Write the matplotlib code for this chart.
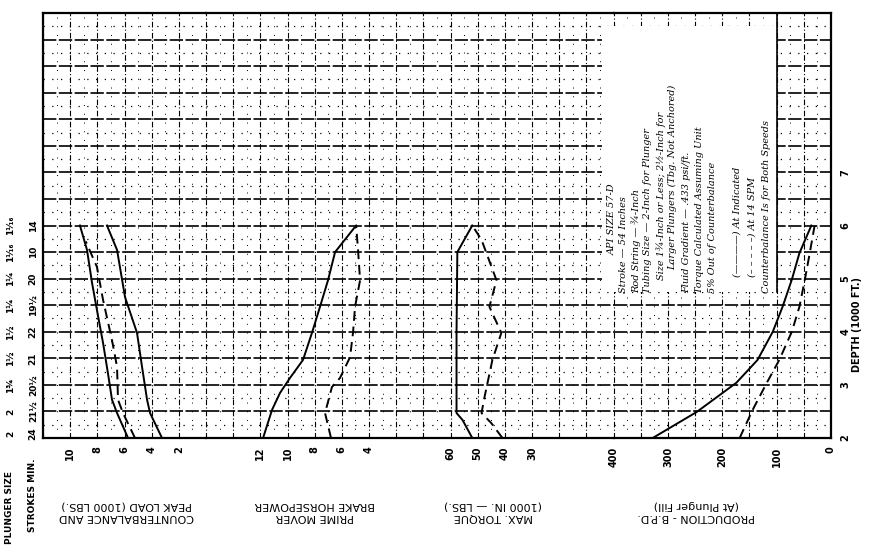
import numpy as np
import matplotlib.pyplot as plt
from matplotlib.patches import Rectangle

# depth in 1000 ft for every curve
# counterbalance and peak load (1000 lbs)
peak_depth = [2.0, 2.47, 2.72, 3.22, 3.79, 4.41, 4.92, 5.54, 6.0]
peak_ind = [5.74, 6.55, 6.92, 7.22, 7.58, 8.03, 8.39, 8.76, 9.28]
peak14_depth = [2.0, 2.47, 2.72, 3.34, 3.84, 4.6, 5.22, 5.7]
peak_14 = [5.23, 6.11, 6.48, 6.55, 6.92, 7.58, 8.03, 8.85]
cbal_depth = [2.0, 2.47, 2.72, 3.34, 3.98, 4.65, 5.54, 6.0]
cbal = [3.24, 4.12, 4.34, 4.71, 5.08, 5.96, 6.55, 7.29]

# prime mover / brake horsepower
hp_depth = [2.0, 2.53, 2.85, 3.13, 3.47, 3.98, 4.47, 4.97, 5.5, 6.0]
hp_ind = [11.8, 11.14, 10.55, 9.82, 8.86, 8.2, 7.61, 7.02, 6.5, 4.95]
hp14_depth = [2.0, 2.47, 2.96, 3.13, 3.52, 3.98, 4.47, 4.97, 5.54, 6.0]
hp_14 = [6.8, 7.24, 6.73, 6.14, 5.4, 5.18, 5.03, 4.66, 4.81, 4.95]

# max torque (1000 in-lbs)
tq_depth = [2.0, 2.34, 2.47, 2.72, 3.98, 5.5, 6.0]
tq_ind = [52.0, 55.6, 57.8, 57.8, 57.8, 57.5, 52.0]
tq14_depth = [2.0, 2.28, 2.47, 2.77, 3.47, 3.98, 4.47, 4.97, 5.73, 6.0]
tq_14 = [40.9, 45.0, 48.6, 47.5, 44.6, 41.3, 45.7, 43.1, 48.6, 52.0]

# production, B.P.D.
bpd_depth = [2.0, 2.49, 3.04, 3.47, 4.0, 4.47, 4.98, 5.48, 6.0]
bpd_ind = [328, 247, 174, 135, 107, 89, 72, 58, 36]
bpd14_depth = [2.0, 2.53, 3.04, 3.47, 4.0, 4.47, 4.98, 5.48, 6.0]
bpd_14 = [168, 144, 118, 95, 72, 58, 48, 39, 30]

# row labels at left
row_depth = [2.08, 2.5, 3.0, 3.5, 4.0, 4.5, 5.0, 5.5, 6.0]
plunger = ['2', '2', '1¾', '1½', '1½', '1¼', '1¼', '1¹⁄₁₆', '1¹⁄₁₆']
spm = ['24', '21½', '20½', '21', '22', '19½', '20', '10', '14']

depth_labels = [2, 3, 4, 5, 6, 7]

notes = ['API SIZE 57-D',
         'Stroke — 54 Inches',
         'Rod String — ¾-Inch',
         'Tubing Size — 2-Inch for Plunger',
         'Size 1¾-Inch or Less; 2½-Inch for',
         'Larger Plungers (Tbg. Not Anchored)',
         'Fluid Gradient — .433 psi/ft.',
         'Torque Calculated Assuming Unit',
         '5% Out of Counterbalance',
         '(————) At Indicated',
         '(– – – – –) At 14 SPM',
         'Counterbalance Is for Both Speeds']
note_x = [612, 624, 636, 648, 661, 673, 687, 700, 713, 737, 752, 767]
note_y = [255, 293, 293, 293, 280, 270, 293, 293, 293, 277, 277, 293]

W, H = 870, 554
fig = plt.figure(figsize=(W / 100, H / 100), dpi=100)

x0, cell = 43, 27.17
top, bot = 13, 438
# (first cell, last cell, left value, value per cell, labelled values)
panels = [(0, 6, 12, 2, [10, 8, 6, 4, 2]),
          (6, 14, 16, 2, [12, 10, 8, 6, 4]),
          (14, 21, 70, 10, [60, 50, 40, 30]),
          (21, 29, 400, 50, [400, 300, 200, 100, 0])]

axes = []
for i, (c0, c1, vmax, step, shown) in enumerate(panels):
    left = x0 + c0 * cell
    right = x0 + c1 * cell
    ax = fig.add_axes([left / W, 1 - bot / H, (right - left) / W, (bot - top) / H])
    ax.set_xlim(vmax, 0)
    ax.set_ylim(2, 10)
    ticks = np.arange(0, vmax + step / 2, step)
    ax.set_xticks(ticks)
    ax.set_xticklabels([('%g' % t if t in shown else '') for t in ticks],
                       rotation=90, fontsize=7, fontweight='bold')
    ax.set_xticks(np.arange(step / 2, vmax, step), minor=True)
    ax.set_yticks(np.arange(2, 10.01, 0.5))
    ax.set_yticks(np.arange(2.25, 10, 0.5), minor=True)
    ax.grid(which='major', axis='y', color='k', lw=1.2, ls=(0, (8, 1.5)))
    ax.grid(which='minor', axis='y', color='k', lw=0.9, ls=(0, (1, 6)))
    ax.grid(which='major', axis='x', color='k', lw=0.8, ls=(0, (5, 2, 1, 2)))
    ax.grid(which='minor', axis='x', color='k', lw=0.7, ls=(0, (1, 8)))
    ax.tick_params(which='both', length=0, pad=6)
    ax.tick_params(axis='y', labelleft=False)
    for s in ['left', 'right']:
        ax.spines[s].set_visible(False)
    for s in ['top', 'bottom']:
        ax.spines[s].set_linewidth(1.6)
    axes.append(ax)

ax1, ax2, ax3, ax4 = axes
ax1.spines['left'].set_visible(True)
ax1.spines['left'].set_linewidth(1.6)
ax4.spines['right'].set_visible(True)
ax4.spines['right'].set_linewidth(1.6)
ax4.yaxis.set_ticks_position('right')
yt = np.arange(2, 10.01, 0.5)
ax4.set_yticklabels([('%d' % t if t in depth_labels else '') for t in yt],
                    rotation=90, fontsize=7, fontweight='bold', va='center')
ax4.tick_params(axis='y', labelright=True, pad=7)

solid = dict(color='k', lw=1.4, zorder=3)
dash = dict(color='k', lw=1.4, ls=(0, (5, 3)), zorder=3)

ax1.plot(peak_ind, peak_depth, **solid)
ax1.plot(peak_14, peak14_depth, **dash)
ax1.plot(cbal, cbal_depth, **solid)
ax2.plot(hp_ind, hp_depth, **solid)
ax2.plot(hp_14, hp14_depth, **dash)
ax3.plot(tq_ind, tq_depth, **solid)
ax3.plot(tq_14, tq14_depth, **dash)
ax4.plot(bpd_ind, bpd_depth, **solid)
ax4.plot(bpd_14, bpd14_depth, **dash)

# blank block holding the notes
box = Rectangle((100, 4.75), 322, 5.0, facecolor='white', edgecolor='none',
                zorder=2, clip_on=False)
ax4.add_patch(box)
ax4.plot([100, 100], [4.75, 10], color='k', lw=1.2, zorder=2.5)

for t, x, y in zip(notes, note_x, note_y):
    fig.text(x / W, 1 - y / H, t, rotation=90, rotation_mode='anchor',
             ha='left', va='center', fontsize=7, style='italic',
             family='DejaVu Serif', zorder=5)

# row labels on the left
tr = ax1.get_yaxis_transform()
for d, p, s in zip(row_depth, plunger, spm):
    ax1.text(-0.2, d, p, transform=tr, rotation=90, ha='center', va='center',
             fontsize=6.5, fontweight='bold')
    ax1.text(-0.06, d, s, transform=tr, rotation=90, ha='center', va='center',
             fontsize=6.5, fontweight='bold')

fig.text(10 / W, 1 - 507 / H, 'PLUNGER SIZE', rotation=90, ha='center',
         va='center', fontsize=6.5, fontweight='bold')
fig.text(33 / W, 1 - 495 / H, 'STROKES MIN.', rotation=90, ha='center',
         va='center', fontsize=6.5, fontweight='bold')

titles = ['COUNTERBALANCE AND\nPEAK LOAD (1000 LBS.)',
          'PRIME MOVER\nBRAKE HORSEPOWER',
          'MAX. TORQUE\n(1000 IN. — LBS.)',
          'PRODUCTION - B.P.D.\n(At Plunger Fill)']
title_x = [127, 315, 493, 696]
for t, x in zip(titles, title_x):
    fig.text(x / W, 1 - 511 / H, t, rotation=180, ha='center', va='center',
             fontsize=8, multialignment='center', linespacing=1.2)

fig.text(857 / W, 1 - 325 / H, 'DEPTH (1000 FT.)', rotation=90, ha='center',
         va='center', fontsize=7, fontweight='bold')

fig.savefig('out.png', dpi=100)
